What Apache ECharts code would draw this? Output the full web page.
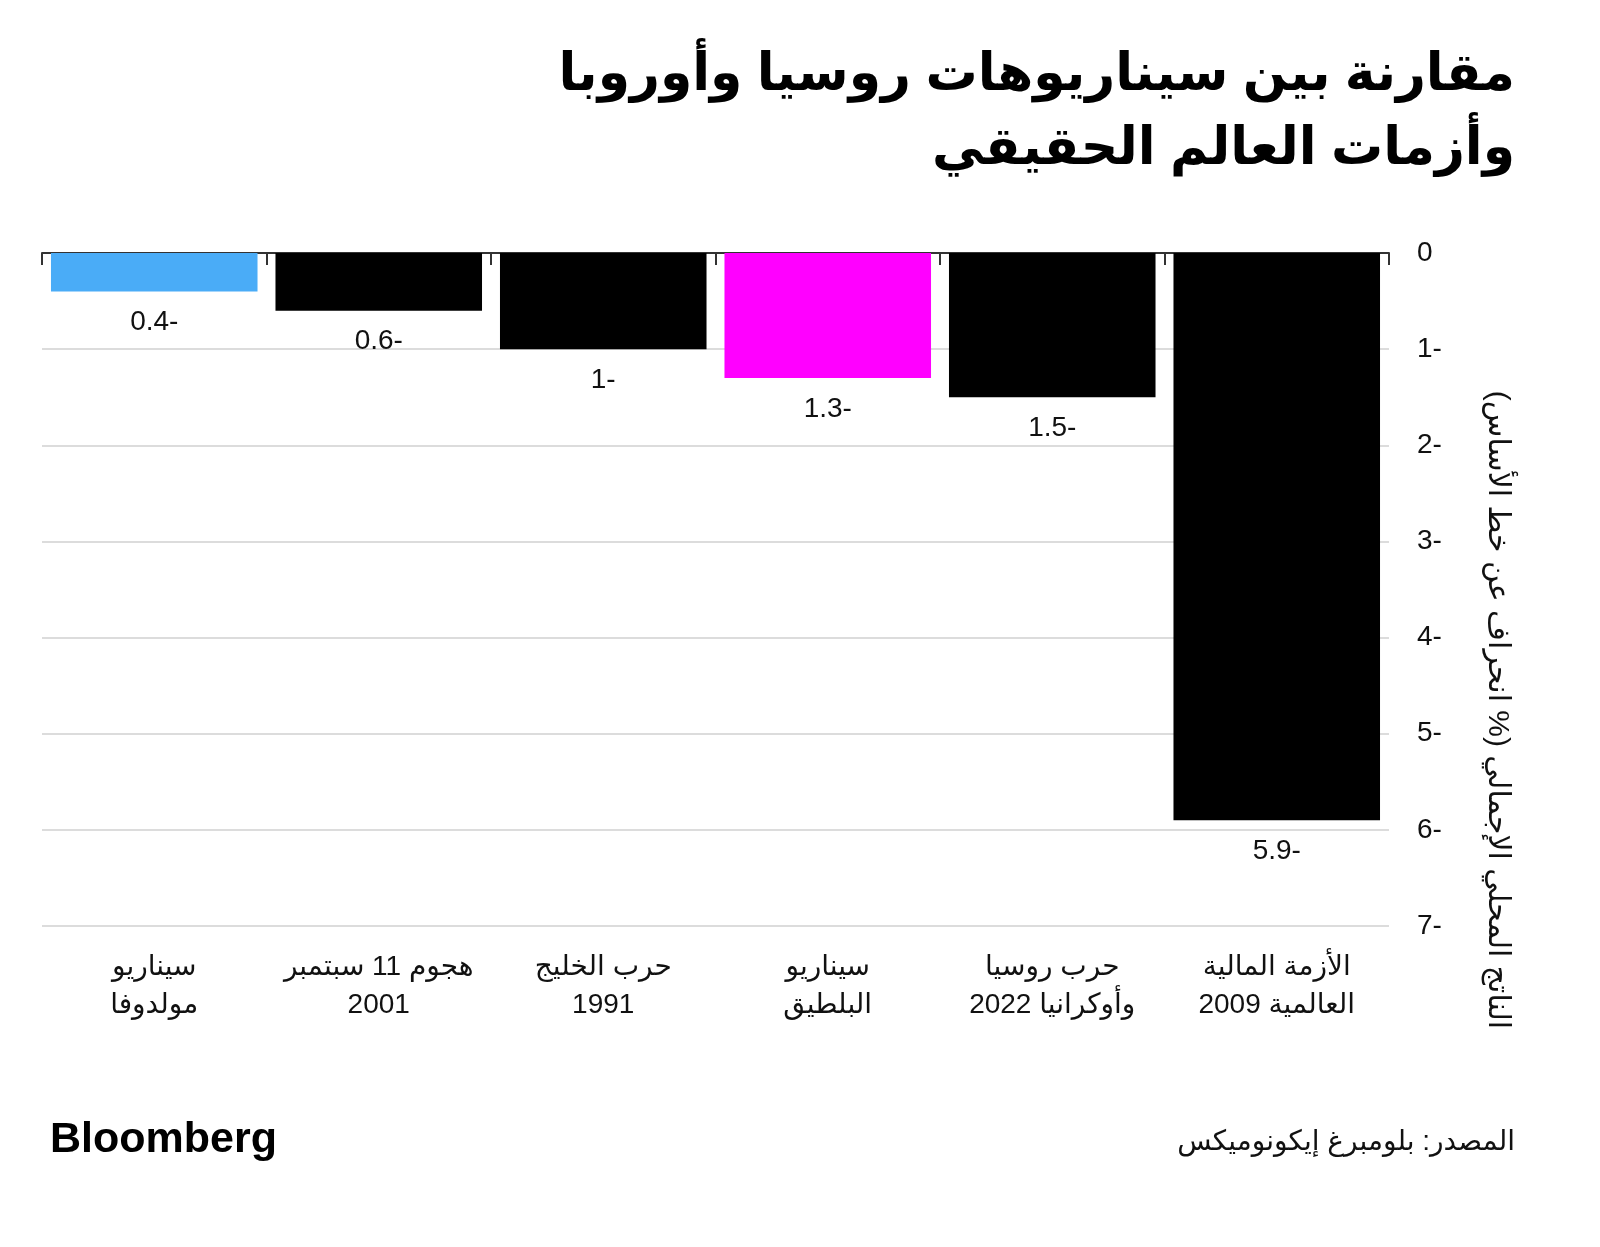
<!DOCTYPE html>
<html dir="rtl">
<head>
<meta charset="utf-8">
<script src="https://cdn.jsdelivr.net/npm/echarts@6/dist/echarts.min.js"></script>
<style>
html,body{margin:0;padding:0;background:#fff;}
#chart{width:1600px;height:1247px;}
</style>
</head>
<body>
<div id="chart"></div>
<script>
const titleText = 'مقارنة بين سيناريوهات روسيا وأوروبا\nوأزمات العالم الحقيقي';
const categories = ['سيناريو\nمولدوفا', 'هجوم 11 سبتمبر\n2001', 'حرب الخليج\n1991', 'سيناريو\nالبلطيق', 'حرب روسيا\nوأوكرانيا 2022', 'الأزمة المالية\nالعالمية 2009'];
const values = [-0.4, -0.6, -1, -1.3, -1.5, -5.9];
const barColors = ['#4aacf7', '#000000', '#000000', '#ff00ff', '#000000', '#000000'];
const axisName = 'الناتج المحلي الإجمالي (% انحراف عن خط الأساس)';
const sourceText = 'المصدر: بلومبرغ إيكونوميكس';
const brandText = 'Bloomberg';

const FONT = '"Liberation Sans", "DejaVu Sans", sans-serif';
const chart = echarts.init(document.getElementById('chart'));
chart.setOption({
  backgroundColor: '#fff',
  animation: false,
  grid: {left: 42, right: 211, top: 253, bottom: 321},
  xAxis: [{
    type: 'category',
    data: categories,
    position: 'top',
    axisLine: {show: true, onZero: false, lineStyle: {color: '#333', width: 2}},
    axisTick: {show: true, inside: true, length: 12, lineStyle: {color: '#333', width: 2}},
    axisLabel: {show: false},
    splitLine: {show: false}
  }, {
    type: 'category',
    data: categories,
    position: 'bottom',
    axisLine: {show: false},
    axisTick: {show: false},
    axisLabel: {show: true, interval: 0, margin: 22, fontFamily: FONT, fontSize: 28, lineHeight: 38, color: '#111'},
    splitLine: {show: false}
  }],
  yAxis: {
    type: 'value',
    position: 'right',
    min: -7, max: 0, interval: 1,
    axisLine: {show: false},
    axisTick: {show: false},
    axisLabel: {margin: 28, fontFamily: FONT, fontSize: 28, color: '#111'},
    splitLine: {show: true, lineStyle: {color: '#dcdcdc', width: 2}}
  },
  series: [{
    type: 'bar',
    xAxisIndex: 0,
    data: values.map((v, i) => ({value: v, itemStyle: {color: barColors[i]}})),
    barCategoryGap: '8%',
    label: {show: true, position: 'bottom', distance: 17, fontFamily: FONT, fontSize: 28, color: '#111'}
  }],
  graphic: [{
    type: 'text',
    x: 1515, y: 39,
    style: {text: titleText, fontFamily: FONT, fontSize: 52, fontWeight: 'bold', fill: '#000', lineHeight: 74, textAlign: 'right', textVerticalAlign: 'top'}
  }, {
    type: 'text',
    x: 1497, y: 710,
    rotation: -Math.PI / 2,
    style: {text: axisName, fontFamily: FONT, fontSize: 30, fill: '#111', textAlign: 'center', textVerticalAlign: 'middle'}
  }, {
    type: 'text',
    x: 50, y: 1140,
    style: {text: brandText, fontFamily: FONT, fontSize: 43, fontWeight: 'bold', fill: '#000', textAlign: 'left', textVerticalAlign: 'middle'}
  }, {
    type: 'text',
    x: 1515, y: 1142,
    style: {text: sourceText, fontFamily: FONT, fontSize: 28, fill: '#111', textAlign: 'right', textVerticalAlign: 'middle'}
  }]
});
</script>
</body>
</html>
